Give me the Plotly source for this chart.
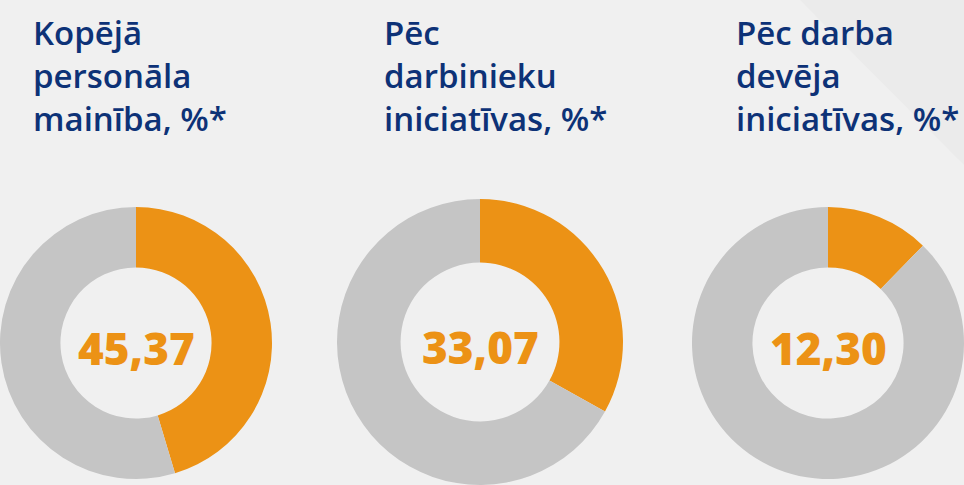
import plotly.graph_objects as go

# ---- data ----
titles = [
    "Kopējā<br>personāla<br>mainība, %*",
    "Pēc<br>darbinieku<br>iniciatīvas, %*",
    "Pēc darba<br>devēja<br>iniciatīvas, %*",
]
values = [45.37, 33.07, 12.30]
total = 100.0

# ---- styles ----
W, H = 964, 485
BG = "#f0f0f0"
ORANGE = "#ec9215"
GREY = "#c5c5c5"
NAVY = "#0d3277"

# donut placement in pixels (centre x, centre y, radius)
placements = [(136, 343, 136), (480, 342, 143), (828, 343, 136)]
title_x = [31, 382, 734]
HOLE = 80 / 144

fig = go.Figure()
for v, (cx, cy, r) in zip(values, placements):
    fig.add_trace(go.Pie(
        values=[v, total - v],
        labels=["a", "b"],
        sort=False,
        direction="clockwise",
        rotation=0,
        hole=HOLE,
        marker=dict(colors=[ORANGE, GREY], line=dict(width=0)),
        textinfo="none",
        hoverinfo="skip",
        showlegend=False,
        domain=dict(
            x=[max(0, (cx - r) / W), min(1, (cx + r) / W)],
            y=[max(0, (H - cy - r) / H), min(1, (H - cy + r) / H)],
        ),
    ))
    fig.add_annotation(
        text=f"{v:.2f}".replace(".", ","),
        x=cx / W, y=(H - cy - 5) / H, xref="paper", yref="paper",
        xanchor="center", yanchor="middle", showarrow=False,
        font=dict(family="Open Sans", size=44, color=ORANGE, weight=800),
    )

for t, x in zip(titles, title_x):
    fig.add_annotation(
        text=t, x=x / W, y=1 - 8 / H, xref="paper", yref="paper",
        xanchor="left", yanchor="top", align="left", showarrow=False,
        font=dict(family="Open Sans", size=33, color=NAVY, weight=600),
    )

# subtle background diagonal band (decoration)
fig.add_shape(type="path", xref="paper", yref="paper", layer="below",
              path=f"M {800/W} 1 L 1 1 L 1 {1-165/H} Z",
              fillcolor="#ebebeb", line=dict(width=0))

fig.update_layout(
    width=W, height=H,
    margin=dict(l=0, r=0, t=0, b=0),
    paper_bgcolor=BG, plot_bgcolor=BG,
)

fig.write_html(
    "out.html",
    config={"displayModeBar": False},
    post_script="document.body.style.margin='0';document.body.style.overflow='hidden';",
)
